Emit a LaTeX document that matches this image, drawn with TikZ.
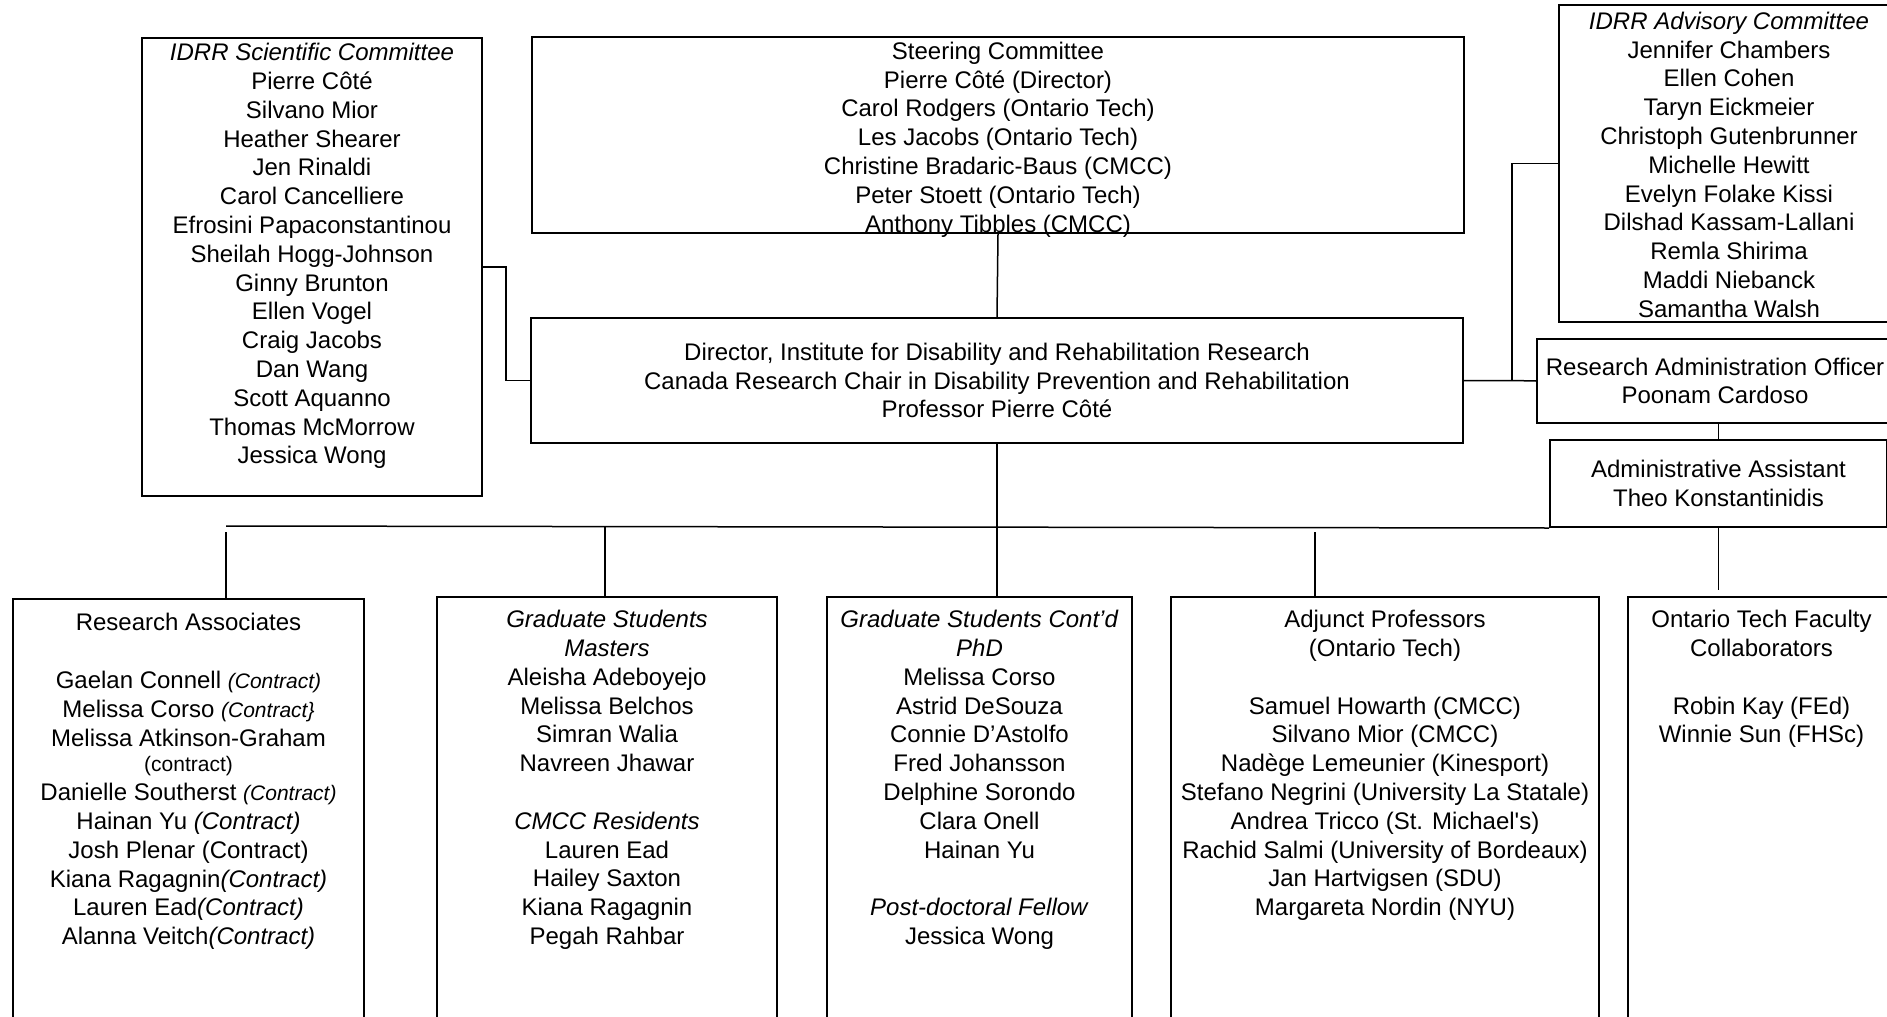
\documentclass[tikz,border=0pt]{standalone}
\usepackage{fontspec}
\setmainfont{Liberation Sans}
\usepackage{tikz}

\newcommand{\ctsize}{\fontsize{21}{25}\selectfont}
\tikzset{
  box/.style={draw, line width=2pt, inner sep=0pt, align=center},
  names/.style={inner sep=0pt, align=center, anchor=north},
  link/.style={line width=1.5pt},
}

\begin{document}
\begin{tikzpicture}[x=1pt, y=-1pt, every node/.style={font=\fontsize{24}{28.8}\selectfont}]
\useasboundingbox (0,0) rectangle (1887,1017);
\clip (0,0) rectangle (1887,1017);
% Scientific committee
\node[box, minimum width=340pt, minimum height=458pt, anchor=north west] (sci) at (141,37) {};
\node[names] (scinames) at ([yshift=-3.4pt]sci.north) {\strut\textit{IDRR Scientific Committee}\\
  Pierre Côté\\ Silvano Mior\\ Heather Shearer\\ Jen Rinaldi\\ Carol Cancelliere\\
  Efrosini Papaconstantinou\\ Sheilah Hogg-Johnson\\ Ginny Brunton\\ Ellen Vogel\\
  Craig Jacobs\\ Dan Wang\\ Scott Aquanno\\ Thomas McMorrow\\ Jessica Wong};
% Steering committee
\node[box, minimum width=932pt, minimum height=196pt, anchor=north west] (steer) at (531,36) {};
\node[names] (steernames) at ([yshift=-3pt]steer.north) {\strut Steering Committee\\
  Pierre Côté (Director)\\ Carol Rodgers (Ontario Tech)\\ Les Jacobs (Ontario Tech)\\
  Christine Bradaric-Baus (CMCC)\\ Peter Stoett (Ontario Tech)\\ Anthony Tibbles (CMCC)};
% Director
\node[box, minimum width=932pt, minimum height=125pt, anchor=north west] (dir) at (530,317)
  {Director, Institute for Disability and Rehabilitation Research\\
   Canada Research Chair in Disability Prevention and Rehabilitation\\
   Professor Pierre Côté};
% Advisory committee
\node[box, minimum width=340pt, minimum height=317pt, anchor=north west] (adv) at (1558,4) {};
\node[names] (advnames) at ([yshift=-5pt]adv.north) {\strut\textit{IDRR Advisory Committee}\\
  Jennifer Chambers\\ Ellen Cohen\\ Taryn Eickmeier\\ Christoph Gutenbrunner\\
  Michelle Hewitt\\ Evelyn Folake Kissi\\ Dilshad Kassam-Lallani\\ Remla Shirima\\
  Maddi Niebanck\\ Samantha Walsh};
% Administration
\node[box, minimum width=356pt, minimum height=84pt, anchor=north west] (rao) at (1536,338)
  {Research Administration Officer\\ Poonam Cardoso};
\node[box, minimum width=337pt, minimum height=87pt, anchor=north west] (aa) at (1549,439)
  {Administrative Assistant\\ Theo Konstantinidis};
% Bottom row
\node[box, minimum width=351pt, minimum height=432pt, anchor=north west] (ra) at (12,598) {};
\node[names] (ranames) at ([yshift=-12.6pt]ra.north) {\strut Research Associates\\[28.8pt]
  Gaelan Connell {\ctsize\itshape (Contract)}\\ Melissa Corso {\ctsize\itshape (Contract\}}\\
  Melissa Atkinson-Graham\\[-3pt] {\ctsize (contract)}\\
  Danielle Southerst {\ctsize\itshape (Contract)}\\ Hainan Yu \textit{(Contract)}\\
  Josh Plenar (Contract)\\ Kiana Ragagnin\textit{(Contract)}\\ Lauren Ead\textit{(Contract)}\\
  Alanna Veitch\textit{(Contract)}};
\node[box, minimum width=340pt, minimum height=434pt, anchor=north west] (gsm) at (436,596) {};
\node[names] (gsmnames) at ([yshift=-11.4pt]gsm.north) {\strut\textit{Graduate Students}\\
  \textit{Masters}\\ Aleisha Adeboyejo\\ Melissa Belchos\\ Simran Walia\\ Navreen Jhawar\\[28.8pt]
  \textit{CMCC Residents}\\ Lauren Ead\\ Hailey Saxton\\ Kiana Ragagnin\\ Pegah Rahbar};
\node[box, minimum width=305pt, minimum height=434pt, anchor=north west] (gsc) at (826,596) {};
\node[names] (gscnames) at ([yshift=-11.4pt]gsc.north) {\strut\textit{Graduate Students Cont’d}\\
  \textit{PhD}\\ Melissa Corso\\ Astrid DeSouza\\ Connie D’Astolfo\\ Fred Johansson\\
  Delphine Sorondo\\ Clara Onell\\ Hainan Yu\\[28.8pt]
  \textit{Post-doctoral Fellow}\\ Jessica Wong};
\node[box, minimum width=428pt, minimum height=434pt, anchor=north west] (adj) at (1170,596) {};
\node[names] (adjnames) at ([yshift=-11.4pt]adj.north) {\strut Adjunct Professors\\
  (Ontario Tech)\\[28.8pt] Samuel Howarth (CMCC)\\ Silvano Mior (CMCC)\\
  Nadège Lemeunier (Kinesport)\\ Stefano Negrini (University La Statale)\\
  Andrea Tricco (St. Michael\textquotesingle s)\\ Rachid Salmi (University of Bordeaux)\\
  Jan Hartvigsen (SDU)\\ Margareta Nordin (NYU)};
\node[box, minimum width=267pt, minimum height=434pt, anchor=north west] (otf) at (1627,596) {};
\node[names] (otfnames) at ([yshift=-11.4pt]otf.north) {\strut Ontario Tech Faculty\\
  Collaborators\\[28.8pt] Robin Kay (FEd)\\ Winnie Sun (FHSc)};
% Connectors
\draw[link] (sci.east) -- ++(23,0) |- (dir.west);
\draw[link] (steer.south) -- (dir.north);
\coordinate (split) at ([xshift=48pt]dir.east);
\draw[link] (dir.east) -- (split) -- (rao.west);
\draw[link] (split) |- (adv.west);
\draw[link] (aa.north) -- (aa.north |- rao.south);
% Bus
\coordinate (busra) at (226,526);
\coordinate (busgsm) at (605,526);
\coordinate (busadj) at (1315,526);
\draw[link] (busra) -- (aa.south west);
\draw[link, shorten <=6pt] (busra) -- (busra |- ra.north);
\draw[link] (busgsm) -- (busgsm |- gsm.north);
\draw[link] (dir.south) -- (dir.south |- gsc.north);
\draw[link, shorten <=6pt] (busadj) -- (busadj |- adj.north);
\draw[link, shorten >=6pt] (aa.south) -- (aa.south |- otf.north);
\end{tikzpicture}
\end{document}
